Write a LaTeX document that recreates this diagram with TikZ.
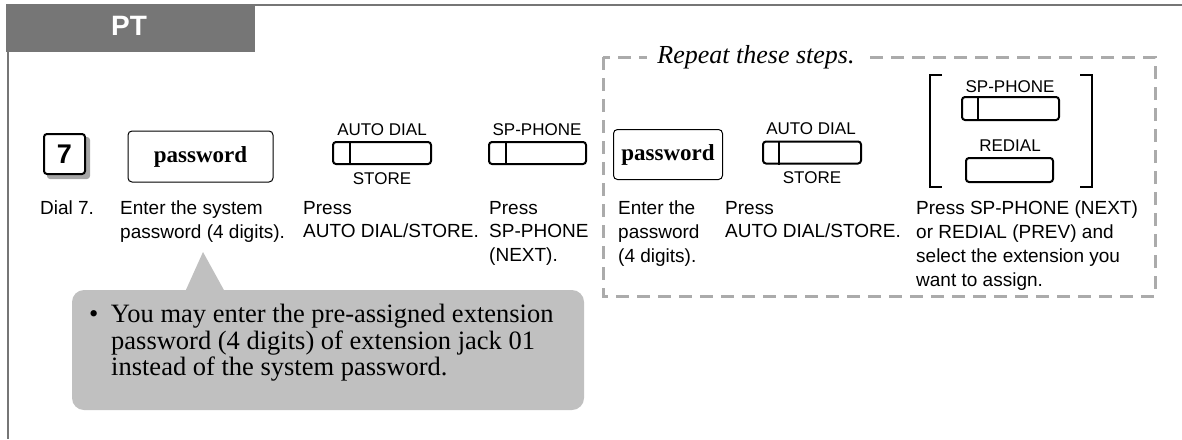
\documentclass[tikz,border=0pt]{standalone}
\usepackage{fontspec}
\setmainfont{Liberation Serif}
\setsansfont{Liberation Sans}
\usetikzlibrary{positioning}
\definecolor{hdrgray}{HTML}{767676}
\definecolor{boxgray}{HTML}{ABABAB}
\definecolor{notegray}{HTML}{C0C0C0}
\newcommand{\stepfont}{\sffamily\fontsize{19}{23.7}\selectfont}
\newcommand{\btnfont}{\sffamily\fontsize{17}{18}\selectfont}
\newcommand{\notefont}{\rmfamily\fontsize{26.5}{26.5}\selectfont}

\begin{document}
\begin{tikzpicture}[x=1pt, y=-1pt,
  stepbtn/.style={draw, line width=2pt, rounded corners=3pt, minimum width=#1,
    minimum height=22pt, inner sep=0pt},
  pwbox/.style={draw, line width=1pt, rounded corners=4pt, inner sep=0pt,
    font=\rmfamily\bfseries\fontsize{23}{24}\selectfont},
  btnlbl/.style={inner sep=0pt, font=\btnfont},
  steptxt/.style={anchor=north west, inner sep=0pt, align=left, font=\stepfont}]
  \useasboundingbox (0,0) rectangle (1182,439);

  % frame and header
  \draw[hdrgray, line width=2pt] (255,5) -- (1182,5);
  \draw[hdrgray, line width=2pt] (8,52) -- (8,439);
  \fill[hdrgray] (6,4) rectangle (255,52);
  \node[inner sep=0pt, text=white, font=\sffamily\bfseries\fontsize{28}{29}\selectfont] (hdr) at (129,26) {PT};

  % repeat box
  \draw[boxgray, line width=3pt, dash pattern=on 13pt off 8pt] (603,57) rectangle (1155,296);
  \node[fill=white, inner xsep=10pt, inner ysep=2pt,
    font=\rmfamily\itshape\fontsize{26}{27}\selectfont] (rep) at (756,57) {Repeat these steps.};

  % key 7
  \node[fill=gray!70, rounded corners=3pt, minimum width=43pt, minimum height=42pt] (k7s) at (68.5,158) {};
  \node[draw, fill=white, line width=2pt, rounded corners=3pt, minimum width=41pt, minimum height=40pt,
    inner sep=0pt, font=\sffamily\bfseries\fontsize{27}{28}\selectfont] (k7) at (64.5,154) {7};

  % password boxes
  \node[pwbox, minimum width=145pt, minimum height=51pt] (pw1) at (200.5,156.5) {password};
  \node[pwbox, minimum width=109pt, minimum height=50pt] (pw2) at (668,154.5) {password};

  % buttons
  \node[stepbtn=98pt] (ad1) at (382,153) {};
  \node[btnlbl] (ad1t) at (382,130) {AUTO DIAL};
  \node[btnlbl] (ad1b) at (382,179) {STORE};
  \draw[line width=2pt] ([xshift=18pt]ad1.north west) -- ([xshift=18pt]ad1.south west);

  \node[stepbtn=97pt] (sp1) at (537.5,153) {};
  \node[btnlbl] (sp1t) at (537,130) {SP-PHONE};
  \draw[line width=2pt] ([xshift=18pt]sp1.north west) -- ([xshift=18pt]sp1.south west);

  \node[stepbtn=98pt] (ad2) at (812,152.5) {};
  \node[btnlbl] (ad2t) at (811,129) {AUTO DIAL};
  \node[btnlbl] (ad2b) at (812,178) {STORE};
  \draw[line width=2pt] ([xshift=17pt]ad2.north west) -- ([xshift=17pt]ad2.south west);

  \node[stepbtn=97pt, minimum height=23pt] (sp2) at (1010.5,108.5) {};
  \node[btnlbl] (sp2t) at (1010,87) {SP-PHONE};
  \draw[line width=2pt] ([xshift=17pt]sp2.north west) -- ([xshift=17pt]sp2.south west);

  \node[stepbtn=87pt, minimum height=24pt] (rd2) at (1009.5,170) {};
  \node[btnlbl] (rd2t) at (1010,146) {REDIAL};

  % brackets
  \draw[line width=1.3pt] (942,75) -- (930,75) -- (930,187) -- (942,187);
  \draw[line width=1.3pt] (1080,75) -- (1092,75) -- (1092,187) -- (1080,187);

  % step texts
  \node[steptxt] (t1) at (40,201) {Dial 7.};
  \node[steptxt] (t2) at (120,201) {Enter the system\\password (4 digits).};
  \node[steptxt] (t3) at (303,201) {Press\\AUTO DIAL/STORE.};
  \node[steptxt] (t4) at (489,201) {Press\\SP-PHONE\\(NEXT).};
  \node[steptxt] (t5) at (618,201) {Enter the\\password\\(4 digits).};
  \node[steptxt] (t6) at (725,201) {Press\\AUTO DIAL/STORE.};
  \node[steptxt] (t7) at (916,201) {Press SP-PHONE (NEXT)\\or REDIAL (PREV) and\\select the extension you\\want to assign.};

  % note
  \coordinate (tip) at (203,252);
  \fill[notegray] (tip) -- (225,292) -- (185,292) -- cycle;
  \fill[notegray, rounded corners=12pt] (72,290) rectangle (584,410);
  \node[anchor=north west, inner sep=0pt, align=left, font=\notefont] (note) at (89,304)
    {\textbullet\hspace{12.5pt}You may enter the pre-assigned extension\\
     \hspace*{22pt}password (4 digits) of extension jack 01\\
     \hspace*{22pt}instead of the system password.};
\end{tikzpicture}
\end{document}
